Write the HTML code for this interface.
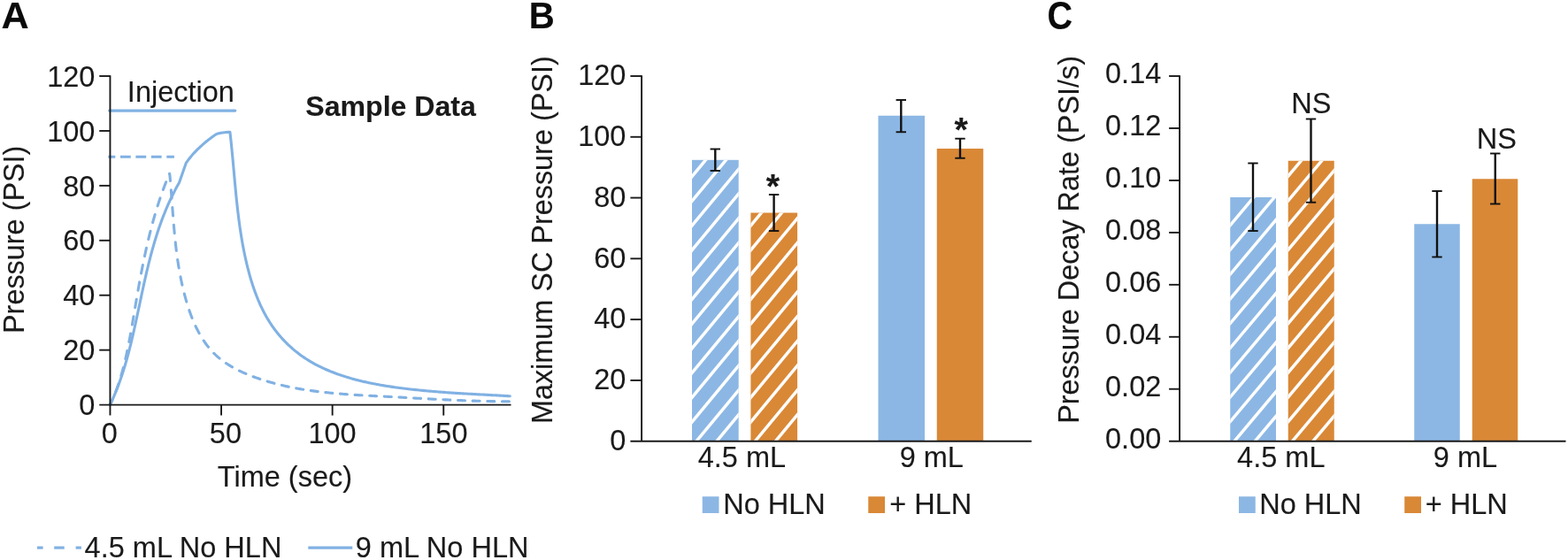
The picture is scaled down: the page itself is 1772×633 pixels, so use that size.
<!DOCTYPE html>
<html lang="en">
<head>
<meta charset="utf-8">
<title>Figure: Pressure sample data, maximum SC pressure and pressure decay rate</title>
<style>
html,body{margin:0;padding:0;background:#fff;}
body{width:1772px;height:633px;overflow:hidden;}
svg{display:block;}
svg text{font-family:"Liberation Sans",sans-serif;fill:#1a1a1a;stroke:#1a1a1a;stroke-width:0.12px;stroke-linejoin:round;}
</style>
</head>
<body>
<svg width="1772" height="633" viewBox="0 0 1772 633">
<rect width="1772" height="633" fill="#fff"/>
<g id="panelA">
<text x="1.4" y="32" text-anchor="start" font-size="43.2" font-weight="bold" style="fill:#0a0a0a;stroke:#0a0a0a">A</text>
<path d="M124.50,457.40 L124.72,456.95 L125.58,455.13 L126.41,453.30 L126.91,452.19 M130.72,442.95 L130.83,442.68 L131.53,440.81 L132.22,438.94 L132.89,437.06 L133.54,435.18 L133.87,434.20 M136.90,424.56 L136.99,424.27 L137.54,422.35 L138.07,420.44 L138.60,418.52 L139.11,416.59 L139.40,415.51 M141.82,405.63 L141.86,405.47 L142.30,403.53 L142.74,401.58 L143.16,399.64 L143.58,397.69 L143.85,396.42 M145.87,386.41 L145.97,385.94 L146.34,383.98 L146.71,382.02 L147.08,380.05 L147.44,378.08 L147.62,377.12 M149.40,367.05 L149.45,366.75 L149.79,364.78 L150.13,362.81 L150.47,360.83 L150.80,358.86 L150.99,357.72 M152.69,347.63 L152.71,347.49 L153.04,345.52 L153.38,343.54 L153.71,341.57 L154.05,339.59 L154.27,338.30 M156.02,328.21 L156.10,327.75 L156.45,325.77 L156.80,323.80 L157.16,321.83 L157.51,319.86 L157.69,318.90 M159.56,308.86 L159.62,308.54 L160.00,306.58 L160.38,304.61 L160.77,302.65 L161.15,300.69 L161.38,299.58 M163.43,289.59 L163.47,289.43 L163.89,287.47 L164.31,285.52 L164.73,283.57 L165.17,281.62 L165.44,280.37 M167.75,270.45 L167.75,270.43 L168.22,268.49 L168.69,266.55 L169.18,264.61 L169.66,262.68 L170.01,261.32 M172.61,251.50 L172.72,251.10 L173.25,249.18 L173.79,247.25 L174.34,245.34 L174.89,243.42 L175.17,242.48 M178.11,232.80 L178.23,232.44 L178.84,230.54 L179.45,228.64 L180.08,226.74 L180.71,224.84 L181.02,223.93 M184.36,214.44 L184.52,213.99 L185.21,212.12 L185.92,210.24 L186.63,208.37 L187.35,206.50 L187.64,205.76 M191.41,196.49 L191.50,196.26 L191.84,197.31 L192.03,199.33 L192.21,201.35 L192.39,203.36 L192.49,204.50 M193.33,214.74 L193.34,214.90 L193.50,216.90 L193.66,218.90 L193.81,220.90 L193.96,222.90 L194.06,224.22 M194.82,234.47 L194.85,234.86 L195.00,236.85 L195.15,238.84 L195.30,240.82 L195.45,242.81 L195.54,243.96 M196.36,254.20 L196.36,254.20 L196.53,256.18 L196.70,258.16 L196.88,260.14 L197.06,262.11 L197.20,263.67 M198.23,273.89 L198.23,273.95 L198.45,275.93 L198.67,277.90 L198.90,279.87 L199.13,281.84 L199.31,283.32 M200.67,293.49 L200.70,293.65 L200.99,295.62 L201.29,297.58 L201.59,299.55 L201.91,301.52 L202.13,302.85 M203.96,312.91 L204.04,313.32 L204.43,315.29 L204.84,317.25 L205.25,319.22 L205.68,321.19 L205.90,322.15 M208.29,332.04 L208.41,332.50 L208.93,334.47 L209.46,336.44 L210.01,338.41 L210.58,340.38 L210.78,341.08 M213.84,350.71 L213.99,351.13 L214.66,353.07 L215.36,355.00 L216.08,356.92 L216.82,358.82 L217.05,359.43 M221.00,368.58 L221.03,368.64 L221.90,370.47 L222.80,372.28 L223.72,374.07 L224.66,375.85 L225.14,376.72 M230.20,385.07 L230.31,385.23 L231.43,386.87 L232.57,388.48 L233.74,390.06 L234.94,391.61 L235.45,392.25 M241.74,399.32 L242.07,399.65 L243.47,401.01 L244.90,402.34 L246.37,403.63 L247.86,404.90 L248.09,405.09 M255.43,410.53 L255.75,410.74 L257.40,411.82 L259.08,412.87 L260.77,413.90 L262.49,414.89 L262.53,414.92 M270.44,419.07 L270.46,419.08 L272.27,419.94 L274.10,420.79 L275.94,421.61 L277.79,422.41 L277.92,422.46 M286.12,425.73 L286.23,425.77 L288.12,426.46 L290.02,427.14 L291.92,427.81 L293.79,428.44 M302.15,431.10 L302.44,431.18 L304.36,431.75 L306.29,432.30 L308.22,432.84 L309.93,433.30 M318.39,435.44 L318.87,435.55 L320.82,436.00 L322.77,436.44 L324.72,436.87 L326.25,437.19 M334.79,438.88 L335.00,438.92 L336.97,439.27 L338.93,439.62 L340.90,439.95 L342.70,440.25 M351.28,441.55 L351.77,441.62 L353.75,441.89 L355.73,442.15 L357.72,442.41 L359.23,442.60 M367.84,443.59 L368.16,443.62 L370.15,443.83 L372.14,444.03 L374.14,444.23 L375.82,444.39 M384.44,445.14 L384.63,445.15 L386.63,445.31 L388.63,445.47 L390.63,445.62 L392.43,445.75 M401.06,446.33 L401.15,446.33 L403.16,446.46 L405.16,446.58 L407.17,446.70 L409.05,446.81 M417.69,447.29 L417.70,447.29 L419.70,447.40 L421.71,447.50 L423.71,447.61 L425.68,447.71 M434.33,448.15 L434.73,448.18 L436.73,448.28 L438.73,448.38 L440.74,448.49 L442.32,448.57 M450.96,449.04 L451.23,449.06 L453.23,449.16 L455.22,449.27 L457.22,449.38 L458.95,449.48 M467.59,449.96 L467.69,449.97 L469.68,450.08 L471.68,450.19 L473.67,450.30 L475.58,450.40 M484.22,450.87 L484.63,450.89 L486.62,451.00 L488.61,451.10 L490.60,451.20 L492.22,451.29 M500.86,451.72 L501.06,451.73 L503.05,451.83 L505.04,451.92 L507.04,452.02 L508.85,452.10 M517.50,452.48 L517.50,452.48 L519.50,452.56 L521.49,452.64 L523.49,452.71 L525.48,452.79 L525.49,452.79 M534.14,453.09 L534.47,453.10 L536.46,453.16 L538.46,453.22 L540.46,453.27 L542.14,453.32 M550.78,453.51 L550.97,453.52 L552.98,453.55 L554.98,453.58 L556.99,453.61 L558.78,453.64 M567.43,453.71 L567.53,453.71 L569.54,453.72 L571.56,453.72 L573.57,453.72 L575.43,453.71" fill="none" stroke="#80b1e3" stroke-width="3.1" stroke-linecap="round" stroke-linejoin="round"/>
<path d="M124.50,457.40 L124.93,456.49 L125.78,454.67 L126.62,452.84 L127.44,451.01 L128.25,449.17 L129.04,447.33 L129.82,445.49 L130.58,443.63 L131.33,441.78 L132.07,439.92 L132.80,438.05 L133.51,436.19 L134.21,434.31 L134.89,432.44 L135.57,430.56 L136.23,428.67 L136.88,426.78 L137.52,424.89 L138.15,422.99 L138.77,421.10 L139.38,419.19 L139.97,417.29 L140.56,415.38 L141.14,413.46 L141.71,411.55 L142.27,409.63 L142.82,407.71 L143.37,405.78 L143.90,403.86 L144.43,401.93 L144.95,399.99 L145.46,398.06 L145.96,396.12 L146.46,394.18 L146.95,392.24 L147.44,390.30 L147.92,388.35 L148.39,386.40 L148.86,384.45 L149.32,382.50 L149.78,380.55 L150.23,378.59 L150.68,376.64 L151.13,374.68 L151.57,372.72 L152.00,370.76 L152.44,368.80 L152.87,366.84 L153.30,364.87 L153.72,362.91 L154.15,360.95 L154.57,358.98 L154.99,357.01 L155.40,355.05 L155.82,353.08 L156.24,351.11 L156.65,349.15 L157.07,347.18 L157.48,345.21 L157.90,343.24 L158.32,341.27 L158.73,339.31 L159.15,337.34 L159.57,335.37 L159.99,333.41 L160.41,331.44 L160.83,329.47 L161.25,327.51 L161.68,325.54 L162.11,323.58 L162.54,321.62 L162.97,319.66 L163.41,317.69 L163.85,315.73 L164.29,313.78 L164.74,311.82 L165.19,309.86 L165.65,307.91 L166.11,305.95 L166.57,304.00 L167.04,302.05 L167.52,300.10 L168.00,298.16 L168.48,296.21 L168.97,294.27 L169.47,292.33 L169.97,290.39 L170.48,288.45 L170.99,286.52 L171.51,284.59 L172.04,282.66 L172.58,280.73 L173.12,278.80 L173.68,276.88 L174.23,274.96 L174.80,273.04 L175.38,271.13 L175.96,269.22 L176.55,267.31 L177.16,265.40 L177.77,263.50 L178.39,261.60 L179.02,259.71 L179.66,257.82 L180.31,255.93 L180.97,254.04 L181.64,252.16 L182.32,250.28 L183.02,248.41 L183.72,246.54 L184.44,244.67 L185.16,242.81 L185.90,240.95 L186.65,239.09 L187.42,237.24 L188.19,235.40 L188.98,233.55 L189.78,231.72 L190.60,229.88 L191.43,228.06 L192.27,226.23 L193.13,224.41 L194.00,222.60 L194.88,220.79 L195.78,218.99 L196.69,217.19 L197.62,215.39 L198.57,213.60 L199.53,211.82 L200.50,210.04 L201.49,208.27 L202.50,206.50 L210.30,184.20 L211.48,182.53 L212.69,180.89 L213.93,179.28 L215.20,177.69 L216.50,176.13 L217.82,174.60 L219.17,173.08 L220.55,171.60 L221.97,170.15 L223.42,168.72 L224.89,167.31 L226.38,165.93 L227.88,164.55 L229.39,163.18 L230.92,161.84 L232.47,160.52 L234.05,159.24 L235.66,158.03 L237.30,156.78 L238.96,155.47 L240.64,154.18 L242.36,152.97 L244.11,151.92 L245.91,151.12 L247.76,150.63 L249.66,150.28 L251.61,149.96 L253.61,149.69 L255.66,149.48 L257.76,149.35 L259.90,149.30 L260.13,151.28 L260.35,153.26 L260.57,155.23 L260.79,157.21 L261.00,159.19 L261.21,161.18 L261.42,163.16 L261.62,165.14 L261.82,167.12 L262.01,169.11 L262.21,171.09 L262.40,173.08 L262.59,175.06 L262.78,177.05 L262.96,179.04 L263.15,181.02 L263.33,183.01 L263.51,185.00 L263.69,186.99 L263.87,188.98 L264.05,190.97 L264.23,192.96 L264.41,194.95 L264.59,196.94 L264.77,198.93 L264.95,200.92 L265.13,202.91 L265.31,204.90 L265.50,206.89 L265.68,208.88 L265.87,210.87 L266.06,212.86 L266.25,214.85 L266.44,216.85 L266.63,218.84 L266.83,220.83 L267.03,222.82 L267.23,224.81 L267.44,226.80 L267.65,228.79 L267.87,230.78 L268.08,232.77 L268.30,234.76 L268.53,236.75 L268.76,238.74 L269.00,240.73 L269.24,242.71 L269.48,244.70 L269.73,246.69 L269.99,248.68 L270.25,250.66 L270.52,252.65 L270.79,254.63 L271.07,256.62 L271.36,258.60 L271.65,260.58 L271.95,262.57 L272.26,264.55 L272.58,266.53 L272.90,268.51 L273.23,270.49 L273.57,272.47 L273.92,274.44 L274.27,276.42 L274.64,278.40 L275.01,280.37 L275.39,282.35 L275.78,284.32 L276.19,286.29 L276.60,288.26 L277.02,290.23 L277.45,292.20 L277.89,294.17 L278.34,296.14 L278.80,298.10 L279.28,300.07 L279.76,302.03 L280.26,303.99 L280.76,305.95 L281.28,307.90 L281.82,309.86 L282.36,311.81 L282.92,313.75 L283.49,315.70 L284.08,317.63 L284.68,319.57 L285.29,321.49 L285.92,323.41 L286.57,325.33 L287.23,327.24 L287.90,329.14 L288.59,331.03 L289.30,332.91 L290.03,334.79 L290.77,336.66 L291.53,338.51 L292.31,340.36 L293.11,342.20 L293.92,344.03 L294.76,345.84 L295.61,347.65 L296.49,349.44 L297.38,351.22 L298.29,352.99 L299.23,354.75 L300.18,356.49 L301.16,358.21 L302.16,359.93 L303.18,361.62 L304.22,363.31 L305.29,364.97 L306.37,366.62 L307.48,368.26 L308.62,369.88 L309.77,371.48 L310.95,373.06 L312.15,374.63 L313.37,376.18 L314.61,377.71 L315.87,379.22 L317.16,380.71 L318.46,382.19 L319.79,383.64 L321.13,385.08 L322.50,386.50 L323.89,387.90 L325.29,389.27 L326.72,390.63 L328.16,391.97 L329.63,393.28 L331.11,394.58 L332.61,395.85 L334.13,397.10 L335.67,398.33 L337.23,399.54 L338.81,400.73 L340.40,401.89 L342.01,403.03 L343.64,404.14 L345.28,405.24 L346.95,406.30 L348.62,407.35 L350.32,408.38 L352.03,409.38 L353.75,410.36 L355.49,411.32 L357.24,412.26 L359.01,413.18 L360.79,414.08 L362.58,414.95 L364.38,415.81 L366.20,416.65 L368.03,417.47 L369.87,418.27 L371.71,419.05 L373.57,419.81 L375.44,420.56 L377.32,421.28 L379.20,421.99 L381.10,422.68 L383.00,423.36 L384.91,424.01 L386.82,424.65 L388.74,425.28 L390.67,425.89 L392.61,426.48 L394.55,427.06 L396.49,427.62 L398.44,428.17 L400.39,428.70 L402.34,429.22 L404.30,429.73 L406.26,430.22 L408.23,430.70 L410.19,431.16 L412.16,431.62 L414.13,432.06 L416.11,432.49 L418.08,432.90 L420.06,433.31 L422.04,433.70 L424.02,434.09 L426.00,434.46 L427.99,434.82 L429.97,435.18 L431.96,435.52 L433.94,435.85 L435.93,436.18 L437.92,436.50 L439.91,436.80 L441.90,437.10 L443.89,437.40 L445.88,437.68 L447.87,437.96 L449.86,438.23 L451.85,438.49 L453.83,438.75 L455.82,439.00 L457.81,439.25 L459.80,439.49 L461.78,439.73 L463.77,439.95 L465.76,440.18 L467.74,440.40 L469.73,440.61 L471.71,440.82 L473.70,441.02 L475.68,441.22 L477.66,441.41 L479.65,441.60 L481.63,441.78 L483.62,441.96 L485.60,442.14 L487.59,442.31 L489.57,442.48 L491.55,442.64 L493.54,442.80 L495.52,442.96 L497.51,443.11 L499.49,443.26 L501.47,443.41 L503.46,443.55 L505.44,443.69 L507.43,443.83 L509.41,443.96 L511.40,444.09 L513.39,444.22 L515.37,444.35 L517.36,444.48 L519.35,444.60 L521.34,444.72 L523.32,444.84 L525.31,444.96 L527.30,445.07 L529.29,445.19 L531.28,445.30 L533.27,445.41 L535.27,445.52 L537.26,445.63 L539.25,445.74 L541.25,445.85 L543.24,445.96 L545.24,446.06 L547.23,446.17 L549.23,446.28 L551.23,446.38 L553.23,446.49 L555.23,446.59 L557.23,446.70 L559.23,446.81 L561.24,446.91 L563.24,447.02 L565.25,447.13 L567.25,447.24 L569.26,447.35 L571.27,447.46 L573.28,447.58 L575.29,447.69 L576.30,447.75" fill="none" stroke="#80b1e3" stroke-width="3.1" stroke-linejoin="round" stroke-linecap="round"/>
<line x1="123.6" y1="125.1" x2="265.8" y2="125.1" stroke="#80b1e3" stroke-width="3.1" stroke-linecap="round"/>
<line x1="122.3" y1="177.2" x2="196.9" y2="177.2" stroke="#80b1e3" stroke-width="3.1" stroke-dasharray="11.8 5.65" stroke-dashoffset="3.8"/>
<line x1="124.45" y1="85.25" x2="124.45" y2="469.6" stroke="#1a1a1a" stroke-width="1.9"/>
<line x1="112.25" y1="457.6" x2="577.5" y2="457.6" stroke="#1a1a1a" stroke-width="1.9"/>
<text x="107.4" y="469.25" text-anchor="end" font-size="32.5">0</text>
<line x1="112.25" y1="395.6666666666667" x2="124.45" y2="395.6666666666667" stroke="#1a1a1a" stroke-width="1.9"/>
<text x="107.4" y="407.32" text-anchor="end" font-size="32.5">20</text>
<line x1="112.25" y1="333.73333333333335" x2="124.45" y2="333.73333333333335" stroke="#1a1a1a" stroke-width="1.9"/>
<text x="107.4" y="345.38" text-anchor="end" font-size="32.5">40</text>
<line x1="112.25" y1="271.8" x2="124.45" y2="271.8" stroke="#1a1a1a" stroke-width="1.9"/>
<text x="107.4" y="283.45" text-anchor="end" font-size="32.5">60</text>
<line x1="112.25" y1="209.8666666666667" x2="124.45" y2="209.8666666666667" stroke="#1a1a1a" stroke-width="1.9"/>
<text x="107.4" y="221.52" text-anchor="end" font-size="32.5">80</text>
<line x1="112.25" y1="147.93333333333334" x2="124.45" y2="147.93333333333334" stroke="#1a1a1a" stroke-width="1.9"/>
<text x="107.4" y="159.58" text-anchor="end" font-size="32.5">100</text>
<line x1="112.25" y1="86.0" x2="124.45" y2="86.0" stroke="#1a1a1a" stroke-width="1.9"/>
<text x="107.4" y="97.65" text-anchor="end" font-size="32.5">120</text>
<line x1="250.04999999999998" y1="457.6" x2="250.04999999999998" y2="469.6" stroke="#1a1a1a" stroke-width="1.9"/>
<text x="254.9" y="500.6" text-anchor="middle" font-size="32.5">50</text>
<line x1="375.65" y1="457.6" x2="375.65" y2="469.6" stroke="#1a1a1a" stroke-width="1.9"/>
<text x="375.6" y="500.6" text-anchor="middle" font-size="32.5">100</text>
<line x1="501.24999999999994" y1="457.6" x2="501.24999999999994" y2="469.6" stroke="#1a1a1a" stroke-width="1.9"/>
<text x="501.4" y="500.6" text-anchor="middle" font-size="32.5">150</text>
<text x="123.8" y="500.6" text-anchor="middle" font-size="32.5">0</text>
<text x="321.9" y="549.7" text-anchor="middle" font-size="32.5">Time (sec)</text>
<text x="27.5" y="270.8" text-anchor="middle" font-size="32.4" transform="rotate(-90 27.5 270.8)">Pressure (PSI)</text>
<text x="204.4" y="115.2" text-anchor="middle" font-size="32.5">Injection</text>
<text x="345.3" y="131" text-anchor="start" font-size="32.1" font-weight="bold">Sample Data</text>
<line x1="42.0" y1="619.1" x2="48.6" y2="619.1" stroke="#80b1e3" stroke-width="3.2"/>
<line x1="61.2" y1="619.1" x2="72.7" y2="619.1" stroke="#80b1e3" stroke-width="3.2"/>
<line x1="85.6" y1="619.1" x2="91.9" y2="619.1" stroke="#80b1e3" stroke-width="3.2"/>
<text x="95.6" y="629.8" text-anchor="start" font-size="32.5">4.5 mL No HLN</text>
<line x1="348.3" y1="619.1" x2="398.3" y2="619.1" stroke="#80b1e3" stroke-width="3.2"/>
<text x="401.8" y="629.7" text-anchor="start" font-size="32.5">9 mL No HLN</text>
</g>
<g id="panelB">
<text transform="translate(597.7 32) scale(0.93 1)" font-size="43.2" font-weight="bold" style="fill:#0a0a0a;stroke:#0a0a0a">B</text>
<clipPath id="c1"><rect x="782" y="180.8" width="52.70" height="317.90"/></clipPath>
<rect x="782" y="180.8" width="52.70" height="317.90" fill="#8cb7e4"/>
<g clip-path="url(#c1)" stroke="#fff" stroke-width="3.5"><line x1="776.00" y1="206.74" x2="840.70" y2="128.68"/><line x1="776.00" y1="234.49" x2="840.70" y2="156.43"/><line x1="776.00" y1="262.24" x2="840.70" y2="184.18"/><line x1="776.00" y1="289.99" x2="840.70" y2="211.93"/><line x1="776.00" y1="317.74" x2="840.70" y2="239.68"/><line x1="776.00" y1="345.49" x2="840.70" y2="267.43"/><line x1="776.00" y1="373.24" x2="840.70" y2="295.18"/><line x1="776.00" y1="400.99" x2="840.70" y2="322.93"/><line x1="776.00" y1="428.74" x2="840.70" y2="350.68"/><line x1="776.00" y1="456.49" x2="840.70" y2="378.43"/><line x1="776.00" y1="484.24" x2="840.70" y2="406.18"/><line x1="776.00" y1="511.99" x2="840.70" y2="433.93"/><line x1="776.00" y1="539.74" x2="840.70" y2="461.68"/></g>
<clipPath id="c2"><rect x="848.4" y="240.5" width="52.70" height="258.20"/></clipPath>
<rect x="848.4" y="240.5" width="52.70" height="258.20" fill="#d98836"/>
<g clip-path="url(#c2)" stroke="#fff" stroke-width="3.5"><line x1="842.40" y1="262.24" x2="907.10" y2="184.18"/><line x1="842.40" y1="289.99" x2="907.10" y2="211.93"/><line x1="842.40" y1="317.74" x2="907.10" y2="239.68"/><line x1="842.40" y1="345.49" x2="907.10" y2="267.43"/><line x1="842.40" y1="373.24" x2="907.10" y2="295.18"/><line x1="842.40" y1="400.99" x2="907.10" y2="322.93"/><line x1="842.40" y1="428.74" x2="907.10" y2="350.68"/><line x1="842.40" y1="456.49" x2="907.10" y2="378.43"/><line x1="842.40" y1="484.24" x2="907.10" y2="406.18"/><line x1="842.40" y1="511.99" x2="907.10" y2="433.93"/><line x1="842.40" y1="539.74" x2="907.10" y2="461.68"/></g>
<rect x="992.5" y="130.75" width="52.50" height="367.95" fill="#8cb7e4"/>
<rect x="1058.75" y="168" width="52.50" height="330.70" fill="#d98836"/>
<line x1="808.3" y1="168.5" x2="808.3" y2="193" stroke="#111" stroke-width="2.4"/>
<line x1="802.5999999999999" y1="168.5" x2="814.0" y2="168.5" stroke="#111" stroke-width="1.9"/>
<line x1="802.5999999999999" y1="193" x2="814.0" y2="193" stroke="#111" stroke-width="1.9"/>
<line x1="874.6" y1="220" x2="874.6" y2="261" stroke="#111" stroke-width="2.4"/>
<line x1="868.9" y1="220" x2="880.3000000000001" y2="220" stroke="#111" stroke-width="1.9"/>
<line x1="868.9" y1="261" x2="880.3000000000001" y2="261" stroke="#111" stroke-width="1.9"/>
<line x1="1018.3" y1="113" x2="1018.3" y2="149.25" stroke="#111" stroke-width="2.4"/>
<line x1="1012.5999999999999" y1="113" x2="1024.0" y2="113" stroke="#111" stroke-width="1.9"/>
<line x1="1012.5999999999999" y1="149.25" x2="1024.0" y2="149.25" stroke="#111" stroke-width="1.9"/>
<line x1="1085" y1="156.7" x2="1085" y2="178.75" stroke="#111" stroke-width="2.4"/>
<line x1="1079.3" y1="156.7" x2="1090.7" y2="156.7" stroke="#111" stroke-width="1.9"/>
<line x1="1079.3" y1="178.75" x2="1090.7" y2="178.75" stroke="#111" stroke-width="1.9"/>
<line x1="725.1" y1="85.25" x2="725.1" y2="498.7" stroke="#1a1a1a" stroke-width="1.9"/>
<line x1="712.4" y1="498.7" x2="1165.75" y2="498.7" stroke="#1a1a1a" stroke-width="1.9"/>
<text x="707.4" y="508.9" text-anchor="end" font-size="32.5">0</text>
<line x1="712.4" y1="429.91666666666663" x2="725.1" y2="429.91666666666663" stroke="#1a1a1a" stroke-width="1.9"/>
<text x="707.4" y="440.12" text-anchor="end" font-size="32.5">20</text>
<line x1="712.4" y1="361.1333333333333" x2="725.1" y2="361.1333333333333" stroke="#1a1a1a" stroke-width="1.9"/>
<text x="707.4" y="371.33" text-anchor="end" font-size="32.5">40</text>
<line x1="712.4" y1="292.35" x2="725.1" y2="292.35" stroke="#1a1a1a" stroke-width="1.9"/>
<text x="707.4" y="302.55" text-anchor="end" font-size="32.5">60</text>
<line x1="712.4" y1="223.56666666666666" x2="725.1" y2="223.56666666666666" stroke="#1a1a1a" stroke-width="1.9"/>
<text x="707.4" y="233.77" text-anchor="end" font-size="32.5">80</text>
<line x1="712.4" y1="154.7833333333333" x2="725.1" y2="154.7833333333333" stroke="#1a1a1a" stroke-width="1.9"/>
<text x="707.4" y="164.98" text-anchor="end" font-size="32.5">100</text>
<line x1="712.4" y1="86.0" x2="725.1" y2="86.0" stroke="#1a1a1a" stroke-width="1.9"/>
<text x="707.4" y="96.2" text-anchor="end" font-size="32.5">120</text>
<text x="838.4" y="528.4" text-anchor="middle" font-size="32.5">4.5 mL</text>
<text x="1052.8" y="528.4" text-anchor="middle" font-size="32.5">9 mL</text>
<text x="624.0" y="271.2" text-anchor="middle" font-size="32.4" transform="rotate(-90 624.0 271.2)">Maximum SC Pressure (PSI)</text>
<text x="873.5" y="224.2" text-anchor="middle" font-size="39.5" font-weight="bold">*</text>
<text x="1086.2" y="160.2" text-anchor="middle" font-size="39.5" font-weight="bold">*</text>
<rect x="793.75" y="561.25" width="18.75" height="18.75" fill="#8cb7e4"/>
<text x="817.2" y="581.3" text-anchor="start" font-size="32.5">No HLN</text>
<rect x="981.25" y="561.25" width="18.75" height="18.75" fill="#d98836"/>
<text x="1005.2" y="581.3" text-anchor="start" font-size="32.5">+ HLN</text>
</g>
<g id="panelC">
<text transform="translate(1183.4 33.2) scale(0.916 1.03)" font-size="43.2" font-weight="bold" style="fill:#0a0a0a;stroke:#0a0a0a">C</text>
<clipPath id="c3"><rect x="1390.25" y="223" width="51.75" height="275.70"/></clipPath>
<rect x="1390.25" y="223" width="51.75" height="275.70" fill="#8cb7e4"/>
<g clip-path="url(#c3)" stroke="#fff" stroke-width="3.5"><line x1="1384.25" y1="261.74" x2="1448.00" y2="185.88"/><line x1="1384.25" y1="289.49" x2="1448.00" y2="213.63"/><line x1="1384.25" y1="317.24" x2="1448.00" y2="241.38"/><line x1="1384.25" y1="344.99" x2="1448.00" y2="269.13"/><line x1="1384.25" y1="372.74" x2="1448.00" y2="296.88"/><line x1="1384.25" y1="400.49" x2="1448.00" y2="324.63"/><line x1="1384.25" y1="428.24" x2="1448.00" y2="352.38"/><line x1="1384.25" y1="455.99" x2="1448.00" y2="380.13"/><line x1="1384.25" y1="483.74" x2="1448.00" y2="407.88"/><line x1="1384.25" y1="511.49" x2="1448.00" y2="435.63"/><line x1="1384.25" y1="539.24" x2="1448.00" y2="463.38"/></g>
<clipPath id="c4"><rect x="1455.75" y="181.75" width="52.00" height="316.95"/></clipPath>
<rect x="1455.75" y="181.75" width="52.00" height="316.95" fill="#d98836"/>
<g clip-path="url(#c4)" stroke="#fff" stroke-width="3.5"><line x1="1449.75" y1="206.24" x2="1513.75" y2="130.08"/><line x1="1449.75" y1="233.99" x2="1513.75" y2="157.83"/><line x1="1449.75" y1="261.74" x2="1513.75" y2="185.58"/><line x1="1449.75" y1="289.49" x2="1513.75" y2="213.33"/><line x1="1449.75" y1="317.24" x2="1513.75" y2="241.08"/><line x1="1449.75" y1="344.99" x2="1513.75" y2="268.83"/><line x1="1449.75" y1="372.74" x2="1513.75" y2="296.58"/><line x1="1449.75" y1="400.49" x2="1513.75" y2="324.33"/><line x1="1449.75" y1="428.24" x2="1513.75" y2="352.08"/><line x1="1449.75" y1="455.99" x2="1513.75" y2="379.83"/><line x1="1449.75" y1="483.74" x2="1513.75" y2="407.58"/><line x1="1449.75" y1="511.49" x2="1513.75" y2="435.33"/><line x1="1449.75" y1="539.24" x2="1513.75" y2="463.08"/></g>
<rect x="1598.25" y="253.25" width="51.50" height="245.45" fill="#8cb7e4"/>
<rect x="1663.75" y="202.25" width="51.50" height="296.45" fill="#d98836"/>
<line x1="1416" y1="184.5" x2="1416" y2="261" stroke="#111" stroke-width="2.4"/>
<line x1="1410.3" y1="184.5" x2="1421.7" y2="184.5" stroke="#111" stroke-width="1.9"/>
<line x1="1410.3" y1="261" x2="1421.7" y2="261" stroke="#111" stroke-width="1.9"/>
<line x1="1481.5" y1="134.5" x2="1481.5" y2="228.75" stroke="#111" stroke-width="2.4"/>
<line x1="1475.8" y1="134.5" x2="1487.2" y2="134.5" stroke="#111" stroke-width="1.9"/>
<line x1="1475.8" y1="228.75" x2="1487.2" y2="228.75" stroke="#111" stroke-width="1.9"/>
<line x1="1624" y1="216" x2="1624" y2="290.5" stroke="#111" stroke-width="2.4"/>
<line x1="1618.3" y1="216" x2="1629.7" y2="216" stroke="#111" stroke-width="1.9"/>
<line x1="1618.3" y1="290.5" x2="1629.7" y2="290.5" stroke="#111" stroke-width="1.9"/>
<line x1="1689.75" y1="173.5" x2="1689.75" y2="230.5" stroke="#111" stroke-width="2.4"/>
<line x1="1684.05" y1="173.5" x2="1695.45" y2="173.5" stroke="#111" stroke-width="1.9"/>
<line x1="1684.05" y1="230.5" x2="1695.45" y2="230.5" stroke="#111" stroke-width="1.9"/>
<line x1="1333.1" y1="85.25" x2="1333.1" y2="498.7" stroke="#1a1a1a" stroke-width="1.9"/>
<line x1="1321.1" y1="498.7" x2="1769.5" y2="498.7" stroke="#1a1a1a" stroke-width="1.9"/>
<text x="1312.3" y="507.0" text-anchor="end" font-size="32.5">0.00</text>
<line x1="1321.1" y1="439.74285714285713" x2="1333.1" y2="439.74285714285713" stroke="#1a1a1a" stroke-width="1.9"/>
<text x="1312.3" y="448.04" text-anchor="end" font-size="32.5">0.02</text>
<line x1="1321.1" y1="380.7857142857143" x2="1333.1" y2="380.7857142857143" stroke="#1a1a1a" stroke-width="1.9"/>
<text x="1312.3" y="389.09" text-anchor="end" font-size="32.5">0.04</text>
<line x1="1321.1" y1="321.8285714285714" x2="1333.1" y2="321.8285714285714" stroke="#1a1a1a" stroke-width="1.9"/>
<text x="1312.3" y="330.13" text-anchor="end" font-size="32.5">0.06</text>
<line x1="1321.1" y1="262.8714285714286" x2="1333.1" y2="262.8714285714286" stroke="#1a1a1a" stroke-width="1.9"/>
<text x="1312.3" y="271.17" text-anchor="end" font-size="32.5">0.08</text>
<line x1="1321.1" y1="203.9142857142857" x2="1333.1" y2="203.9142857142857" stroke="#1a1a1a" stroke-width="1.9"/>
<text x="1312.3" y="212.21" text-anchor="end" font-size="32.5">0.10</text>
<line x1="1321.1" y1="144.9571428571429" x2="1333.1" y2="144.9571428571429" stroke="#1a1a1a" stroke-width="1.9"/>
<text x="1312.3" y="153.26" text-anchor="end" font-size="32.5">0.12</text>
<line x1="1321.1" y1="86.0" x2="1333.1" y2="86.0" stroke="#1a1a1a" stroke-width="1.9"/>
<text x="1312.3" y="94.3" text-anchor="end" font-size="32.5">0.14</text>
<text x="1447.8" y="528.4" text-anchor="middle" font-size="32.5">4.5 mL</text>
<text x="1656" y="528.4" text-anchor="middle" font-size="32.5">9 mL</text>
<text x="1218.7" y="270.9" text-anchor="middle" font-size="32.4" transform="rotate(-90 1218.7 270.9)">Pressure Decay Rate (PSI/s)</text>
<text x="1481.9" y="127.5" text-anchor="middle" font-size="32.5">NS</text>
<text x="1691.4" y="167.5" text-anchor="middle" font-size="32.5">NS</text>
<rect x="1400" y="561.25" width="18.75" height="18.75" fill="#8cb7e4"/>
<text x="1423.2" y="581.3" text-anchor="start" font-size="32.5">No HLN</text>
<rect x="1587.25" y="561.25" width="18.75" height="18.75" fill="#d98836"/>
<text x="1610.7" y="581.3" text-anchor="start" font-size="32.5">+ HLN</text>
</g>
</svg>
</body>
</html>
